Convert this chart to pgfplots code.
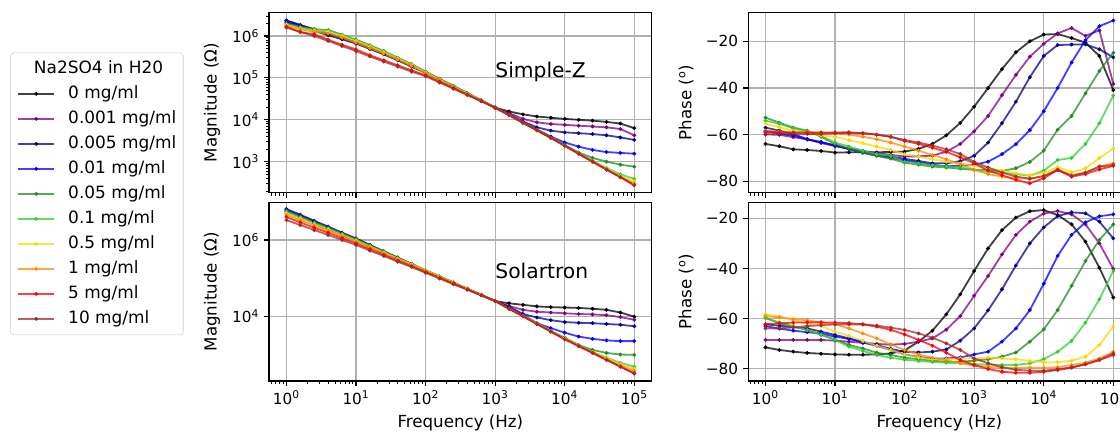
\documentclass[border=0pt]{standalone}
\usepackage{fontspec}
\setmainfont{DejaVu Sans}
\usepackage{pgfplots}
\usepackage{pgfplotstable}
\pgfplotsset{compat=1.18}

\definecolor{col0}{HTML}{000000}
\definecolor{col1}{HTML}{800080}
\definecolor{col2}{HTML}{00008B}
\definecolor{col3}{HTML}{0000FF}
\definecolor{col4}{HTML}{228B22}
\definecolor{col5}{HTML}{32CD32}
\definecolor{col6}{HTML}{FFD700}
\definecolor{col7}{HTML}{FF8C00}
\definecolor{col8}{HTML}{FF0000}
\definecolor{col9}{HTML}{A52A2A}
\definecolor{gridc}{HTML}{B0B0B0}
\definecolor{legc}{HTML}{CCCCCC}

\newcommand\tickfont{\fontsize{11}{13}\selectfont}
\newcommand\labelfont{\fontsize{12}{14}\selectfont}
\newcommand\legfont{\fontsize{12.2}{14}\selectfont}
\newcommand\titlefont{\fontsize{14.6}{17}\selectfont}

% magnitude, Simple-Z (Ohm); columns: 0, 0.001, 0.005, 0.01, 0.05, 0.1, 0.5, 1, 5, 10 mg/ml
\pgfplotstableread{
f      c0     c1     c2     c3     c4     c5     c6     c7     c8     c9
1      2.09e6 2.34e6 2.34e6 2.29e6 2.00e6 1.91e6 1.82e6 1.74e6 1.66e6 1.58e6
1.585  1.66e6 1.82e6 1.82e6 1.78e6 1.66e6 1.58e6 1.51e6 1.45e6 1.23e6 1.26e6
2.512  1.32e6 1.41e6 1.45e6 1.41e6 1.45e6 1.41e6 1.35e6 1.26e6 1.10e6 1.00e6
3.981  1.05e6 1.12e6 1.15e6 1.15e6 1.38e6 1.35e6 1.26e6 1.15e6 8.13e5 7.59e5
6.31   8.32e5 8.91e5 9.12e5 9.12e5 1.07e6 1.05e6 1.00e6 9.12e5 6.17e5 5.75e5
10     6.61e5 6.92e5 7.08e5 7.08e5 8.13e5 7.94e5 7.59e5 6.92e5 4.79e5 4.37e5
15.85  4.90e5 5.13e5 5.25e5 5.25e5 6.03e5 5.89e5 5.62e5 5.13e5 3.47e5 3.24e5
25.12  3.63e5 3.80e5 3.89e5 3.89e5 4.37e5 4.27e5 4.07e5 3.80e5 2.63e5 2.45e5
39.81  2.63e5 2.75e5 2.82e5 2.82e5 3.02e5 2.95e5 2.88e5 2.75e5 2.00e5 1.86e5
63.1   1.86e5 1.95e5 2.00e5 2.00e5 2.14e5 2.09e5 2.04e5 1.95e5 1.51e5 1.41e5
100    1.32e5 1.35e5 1.38e5 1.38e5 1.41e5 1.38e5 1.35e5 1.32e5 1.15e5 1.10e5
158.5  9.12e4 9.12e4 9.33e4 9.33e4 9.55e4 9.33e4 9.12e4 8.91e4 8.13e4 7.76e4
251.2  6.17e4 6.17e4 6.31e4 6.31e4 6.46e4 6.31e4 6.17e4 6.03e4 5.75e4 5.50e4
398.1  4.17e4 4.17e4 4.27e4 4.27e4 4.37e4 4.27e4 4.17e4 4.07e4 3.98e4 3.89e4
631    2.88e4 2.88e4 2.88e4 2.88e4 2.95e4 2.88e4 2.88e4 2.82e4 2.82e4 2.75e4
1000   1.95e4 1.95e4 1.95e4 1.95e4 1.95e4 1.95e4 1.95e4 1.95e4 1.95e4 1.95e4
1585   1.58e4 1.45e4 1.35e4 1.32e4 1.29e4 1.29e4 1.29e4 1.29e4 1.29e4 1.29e4
2512   1.35e4 1.05e4 9.12e3 8.71e3 8.51e3 8.51e3 8.51e3 8.51e3 8.51e3 8.51e3
3981   1.20e4 8.71e3 6.61e3 5.89e3 5.62e3 5.62e3 5.62e3 5.62e3 5.62e3 5.62e3
6310   1.12e4 7.94e3 5.50e3 3.98e3 3.72e3 3.72e3 3.72e3 3.72e3 3.72e3 3.72e3
10000  1.05e4 7.59e3 5.01e3 2.88e3 2.51e3 2.40e3 2.40e3 2.40e3 2.40e3 2.40e3
15850  1.00e4 7.24e3 4.79e3 2.29e3 1.66e3 1.58e3 1.55e3 1.55e3 1.55e3 1.55e3
25120  9.55e3 6.92e3 4.57e3 1.91e3 1.23e3 1.05e3 1.02e3 1.00e3 1.00e3 1.00e3
39810  8.91e3 6.61e3 4.27e3 1.70e3 1.00e3 7.08e2 6.76e2 6.61e2 6.46e2 6.46e2
63100  8.13e3 6.03e3 3.80e3 1.62e3 8.51e2 5.01e2 4.57e2 4.37e2 4.27e2 4.27e2
100000 6.31e3 4.27e3 3.31e3 1.55e3 7.59e2 3.89e2 3.39e2 3.02e2 2.75e2 2.75e2
}\magSZ

% magnitude, Solartron (Ohm)
\pgfplotstableread{
f      c0     c1     c2     c3     c4     c5     c6     c7     c8     c9
1      5.50e6 5.75e6 6.46e6 6.17e6 5.75e6 5.50e6 5.01e6 4.57e6 3.98e6 3.31e6
1.585  3.89e6 4.07e6 4.57e6 4.37e6 4.07e6 3.89e6 3.63e6 3.31e6 2.88e6 2.45e6
2.512  2.75e6 2.88e6 3.16e6 3.09e6 2.88e6 2.75e6 2.57e6 2.40e6 2.09e6 1.82e6
3.981  1.91e6 2.00e6 2.24e6 2.14e6 2.09e6 2.00e6 1.86e6 1.74e6 1.55e6 1.35e6
6.31   1.35e6 1.41e6 1.55e6 1.51e6 1.48e6 1.41e6 1.32e6 1.26e6 1.12e6 1.00e6
10     9.55e5 1.00e6 1.10e6 1.07e6 1.05e6 1.00e6 9.55e5 9.12e5 8.13e5 7.41e5
15.85  6.61e5 6.92e5 7.41e5 7.24e5 7.24e5 6.92e5 6.61e5 6.46e5 5.75e5 5.25e5
25.12  4.57e5 4.79e5 5.01e5 5.01e5 5.01e5 4.79e5 4.68e5 4.47e5 4.07e5 3.80e5
39.81  3.24e5 3.24e5 3.47e5 3.39e5 3.39e5 3.31e5 3.24e5 3.16e5 2.88e5 2.69e5
63.1   2.24e5 2.24e5 2.34e5 2.34e5 2.34e5 2.29e5 2.29e5 2.19e5 2.04e5 1.95e5
100    1.55e5 1.55e5 1.58e5 1.58e5 1.62e5 1.58e5 1.58e5 1.55e5 1.45e5 1.38e5
158.5  1.07e5 1.07e5 1.10e5 1.10e5 1.12e5 1.10e5 1.10e5 1.07e5 1.02e5 9.77e4
251.2  7.41e4 7.41e4 7.59e4 7.59e4 7.76e4 7.59e4 7.59e4 7.41e4 7.24e4 6.92e4
398.1  5.25e4 5.25e4 5.25e4 5.25e4 5.25e4 5.25e4 5.25e4 5.25e4 5.01e4 5.01e4
631    3.63e4 3.63e4 3.63e4 3.63e4 3.63e4 3.63e4 3.63e4 3.63e4 3.55e4 3.55e4
1000   2.51e4 2.51e4 2.51e4 2.51e4 2.51e4 2.51e4 2.51e4 2.51e4 2.51e4 2.51e4
1585   2.19e4 1.86e4 1.78e4 1.66e4 1.62e4 1.58e4 1.58e4 1.58e4 1.58e4 1.58e4
2512   2.00e4 1.48e4 1.15e4 1.10e4 1.02e4 1.02e4 1.02e4 1.02e4 1.00e4 1.00e4
3981   1.82e4 1.32e4 9.33e3 6.61e3 6.61e3 6.46e3 6.46e3 6.46e3 6.31e3 6.31e3
6310   1.74e4 1.26e4 7.94e3 4.90e3 4.17e3 4.07e3 4.07e3 4.07e3 3.98e3 3.98e3
10000  1.70e4 1.20e4 7.08e3 3.72e3 2.75e3 2.63e3 2.63e3 2.57e3 2.51e3 2.51e3
15850  1.66e4 1.15e4 6.76e3 2.95e3 1.78e3 1.74e3 1.70e3 1.70e3 1.66e3 1.66e3
25120  1.58e4 1.12e4 6.61e3 2.57e3 1.32e3 1.17e3 1.15e3 1.12e3 1.10e3 1.10e3
39810  1.48e4 1.07e4 6.31e3 2.34e3 1.10e3 8.32e2 7.94e2 7.59e2 7.24e2 7.24e2
63100  1.26e4 9.55e3 6.03e3 2.24e3 1.00e3 6.03e2 5.62e2 5.25e2 4.79e2 4.79e2
100000 9.77e3 8.13e3 5.50e3 2.24e3 9.77e2 4.79e2 4.17e2 3.72e2 3.24e2 3.16e2
}\magSol

% phase, Simple-Z (deg)
\pgfplotstableread{
f      c0    c1    c2    c3    c4    c5    c6    c7    c8    c9
1      -64   -59.9 -57   -58.4 -52.7 -54   -55.4 -58.3 -59.1 -58.7
1.585  -65   -60.1 -58.3 -59.5 -54.9 -55.4 -56.9 -58.7 -59.4 -59
2.512  -66.3 -61.1 -59.7 -60.5 -57   -57.3 -58.4 -59   -59.6 -59.1
3.981  -66.6 -62   -62   -62   -58.3 -58.7 -58.9 -59   -59.7 -59.1
6.31   -67   -63.6 -63.3 -63.2 -60.9 -60.6 -60.3 -59.1 -59.7 -59.1
10     -67.7 -64.9 -64.7 -64.6 -64   -63.4 -61   -59.4 -59.4 -59.1
15.85  -67.6 -66   -66.1 -66.2 -66   -65.1 -62.3 -60   -59.3 -59
25.12  -67.6 -67   -67.6 -67.8 -67.7 -66.9 -63.7 -60.9 -59.4 -59.4
39.81  -67.6 -67.9 -68.7 -69   -69.1 -68.4 -65.1 -62   -60   -60
63.1   -67.4 -68.7 -69.4 -70   -70.3 -69.1 -66.6 -63.4 -60.9 -61
100    -67.3 -69.4 -70.4 -71   -72   -71.7 -68.4 -65.1 -62.7 -62.3
158.5  -66.1 -69.3 -71.3 -72   -72.9 -72.3 -69.4 -66.9 -64   -63.4
251.2  -64   -69   -72.3 -72.9 -73.7 -73.1 -70.6 -68.7 -65.6 -64.7
398.1  -60.3 -67.3 -72.3 -73.6 -74.1 -73.7 -71.6 -70.6 -67.4 -66.3
631    -55   -64   -71.4 -73.3 -74.6 -74.1 -72.3 -72.7 -69.7 -68.3
1000   -48   -58.6 -69.1 -72.9 -75.1 -75.1 -73.4 -75.1 -72.3 -71.7
1585   -40   -52   -63.4 -71.6 -75.1 -75.9 -74.4 -76.9 -75.4 -74.1
2512   -31.9 -43.1 -55.1 -68.4 -75.6 -76.3 -75.4 -78   -77.4 -76.3
3981   -24.7 -34.4 -45.9 -64.1 -74.4 -77   -76.6 -78.7 -79.4 -78
6310   -20   -26.6 -35.4 -58.1 -71.7 -77.6 -77.4 -78.9 -80.9 -78.9
10000  -17.1 -21.1 -26.3 -50   -66.9 -75.5 -76.5 -78   -78.7 -77.7
15850  -16.9 -16.6 -21.6 -40   -57.9 -70.9 -73.9 -74.9 -75.2 -75.1
25120  -18.6 -14.3 -21.4 -29.1 -52   -70   -76.1 -77.3 -78   -77.7
39810  -20.6 -17.7 -21.3 -19.5 -42.3 -64   -74.5 -76.3 -76.9 -76.3
63100  -26.3 -15.3 -23.4 -13.5 -32.7 -55.1 -70   -73.7 -74.9 -73.7
100000 -40.9 -38.3 -26.9 -11.1 -24.9 -43.3 -66   -72.3 -73.4 -73
}\phSZ

% phase, Solartron (deg)
\pgfplotstableread{
f      c0    c1    c2    c3    c4    c5    c6    c7    c8    c9
1      -71.5 -68.5 -62.3 -63   -59.6 -59.9 -58.3 -59   -62.2 -63.9
1.585  -72.5 -68.5 -62.8 -64   -61.9 -61.5 -59.2 -59.5 -61.9 -63.9
2.512  -73.2 -68.5 -63.4 -64.8 -63.2 -63   -60.6 -60.2 -61.6 -63.5
3.981  -73.7 -68.5 -63.9 -65.4 -64.5 -64.6 -61.9 -60.7 -61.5 -63
6.31   -74   -68.5 -65.2 -65.9 -66.5 -66.3 -63   -61.5 -61.5 -62.6
10     -74.3 -68.8 -66.5 -67.2 -68.3 -68.5 -65.2 -62.3 -61.6 -62.3
15.85  -74.4 -69.2 -67.9 -68.1 -70.5 -71.2 -66.9 -63.9 -61.8 -62.3
25.12  -74.4 -69.7 -69.2 -69.5 -71.9 -72.9 -68.9 -65.9 -62.3 -62.3
39.81  -74.3 -70.1 -70.5 -70.9 -73.6 -74.5 -70.8 -67.9 -63.2 -62.8
63.1   -73.9 -70.4 -72.1 -72.5 -74.5 -75.6 -72.5 -70.3 -64.5 -63.6
100    -72.7 -70.1 -73.2 -74.3 -75.6 -76.4 -74.3 -72.5 -66.3 -64.5
158.5  -69.2 -69.2 -73.5 -75.3 -76.2 -76.9 -75.5 -74.3 -68.5 -65.9
251.2  -64.8 -67.9 -73.2 -75.9 -76.8 -77.3 -76.2 -75.6 -70.8 -67.6
398.1  -58.3 -64.4 -72.3 -75.9 -77.2 -77.6 -76.2 -76.6 -73.6 -69.9
631    -50.3 -59   -68.8 -75.5 -77.2 -77.8 -75.9 -77.8 -76.5 -72.5
1000   -41   -50.9 -63.9 -74.3 -76.8 -78.1 -75.9 -78.8 -78.5 -75.9
1585   -32   -43   -56.7 -73.2 -76.2 -78.4 -75.5 -79.2 -80.1 -77.8
2512   -24.7 -34.4 -48.3 -69.2 -75.2 -78.5 -75.9 -79.6 -81.2 -79.4
3981   -19.7 -26.6 -38.8 -63.9 -73.5 -78.5 -76.2 -79.6 -81.6 -80.4
6310   -17.2 -21.3 -30   -56.6 -69.2 -77.8 -76.9 -79.6 -81.6 -80.8
10000  -16.7 -18.1 -23.6 -46.1 -64.3 -76.2 -77.4 -79.6 -81.2 -80.8
15850  -18.7 -17.1 -19.1 -35   -56.6 -73.2 -77.4 -79.4 -80.5 -80.2
25120  -22.4 -18.4 -17.6 -26.6 -46.9 -68.9 -76.8 -78.5 -79.6 -79.4
39810  -29.3 -22.4 -18   -21.6 -37   -61.6 -75.2 -77.6 -78.2 -78.2
63100  -39.7 -30   -21.3 -19.2 -28.6 -52.3 -70.5 -75.9 -76.5 -76.5
100000 -51.6 -40.2 -28   -18.4 -22.4 -41   -63.2 -73.2 -74.5 -73.9
}\phSol

% settings shared by all four panels
\pgfplotsset{
  every axis/.append style={
    scale only axis, width=275.5pt,
    xmin=0.5623, xmax=177828,
    tick align=outside, tick pos=left,
    major tick length=3.6pt, minor tick length=2.1pt,
    tick style={line width=0.8pt, color=black},
    minor tick style={line width=0.6pt},
    axis line style={line width=0.8pt},
    grid=major, major grid style={line width=0.8pt, color=gridc},
    ticklabel style={font=\tickfont},
    label style={font=\labelfont},
    xlabel style={at={(axis description cs:0.5,0)}, anchor=base, yshift=-33.6pt},
  },
  every axis plot/.append style={line width=1.3pt, mark=*, mark size=1.25pt,
    draw opacity=0.75, mark options={line width=0.3pt, draw opacity=1, fill opacity=1}},
  legend image code/.code={\draw[mark repeat=2,mark phase=2,#1] plot coordinates {(0pt,0pt) (13pt,0pt) (26pt,0pt)};},
}

\begin{document}
\begin{tikzpicture}

% Simple-Z magnitude, with the shared legend
\begin{axis}[at={(193.7pt,172.3pt)}, anchor=south west, height=129.6pt,
    xmode=log, ymode=log,
    xtick={1,10,100,1000,10000,100000}, xticklabels={},
    minor xtick={0.6,0.7,0.8,0.9,2,3,4,5,6,7,8,9,20,30,40,50,60,70,80,90,200,300,400,500,600,700,800,900,2000,3000,4000,5000,6000,7000,8000,9000,20000,30000,40000,50000,60000,70000,80000,90000},
    ymin=182, ymax=3.6e6,
    ytick={1e3,1e4,1e5,1e6},
    yticklabels={10\textsuperscript{3},10\textsuperscript{4},10\textsuperscript{5},10\textsuperscript{6}},
    minor ytick={200,300,400,500,600,700,800,900,2000,3000,4000,5000,6000,7000,8000,9000,2e4,3e4,4e4,5e4,6e4,7e4,8e4,9e4,2e5,3e5,4e5,5e5,6e5,7e5,8e5,9e5,2e6,3e6},
    ylabel={Magnitude (Ω)},
    ylabel style={at={(axis description cs:-0.149,0.5)}, anchor=center},
    legend cell align=left,
    legend style={at={(-0.6768,0.7778)}, anchor=north west, draw=legc, rounded corners=2.5pt,
      fill=white, font=\legfont, inner xsep=5pt, inner ysep=5.5pt, row sep=6pt, column sep=9.4pt,
      nodes={inner sep=0pt, text height=9pt, text depth=3pt}},
  ]
  \addlegendimage{empty legend}
  \addlegendentry{\hspace{-24.7pt}Na2SO4 in H20}
  \addplot[col0] table[x=f,y=c0]{\magSZ}; \addlegendentry{0 mg/ml}
  \addplot[col1] table[x=f,y=c1]{\magSZ}; \addlegendentry{0.001 mg/ml}
  \addplot[col2] table[x=f,y=c2]{\magSZ}; \addlegendentry{0.005 mg/ml}
  \addplot[col3] table[x=f,y=c3]{\magSZ}; \addlegendentry{0.01 mg/ml}
  \addplot[col4] table[x=f,y=c4]{\magSZ}; \addlegendentry{0.05 mg/ml}
  \addplot[col5] table[x=f,y=c5]{\magSZ}; \addlegendentry{0.1 mg/ml}
  \addplot[col6] table[x=f,y=c6]{\magSZ}; \addlegendentry{0.5 mg/ml}
  \addplot[col7] table[x=f,y=c7]{\magSZ}; \addlegendentry{1 mg/ml}
  \addplot[col8] table[x=f,y=c8]{\magSZ}; \addlegendentry{5 mg/ml}
  \addplot[col9] table[x=f,y=c9]{\magSZ}; \addlegendentry{10 mg/ml}
  \node[anchor=base west, inner sep=0pt, font=\titlefont] at (axis cs:1000,1e5) {Simple-Z};
\end{axis}

% Solartron magnitude
\begin{axis}[at={(193.7pt,36.7pt)}, anchor=south west, height=128.7pt,
    xmode=log, ymode=log,
    xtick={1,10,100,1000,10000,100000},
    xticklabels={10\textsuperscript{0},10\textsuperscript{1},10\textsuperscript{2},10\textsuperscript{3},10\textsuperscript{4},10\textsuperscript{5}},
    minor xtick={0.6,0.7,0.8,0.9,2,3,4,5,6,7,8,9,20,30,40,50,60,70,80,90,200,300,400,500,600,700,800,900,2000,3000,4000,5000,6000,7000,8000,9000,20000,30000,40000,50000,60000,70000,80000,90000},
    ymin=202, ymax=9.7e6,
    ytick={1e4,1e6},
    yticklabels={10\textsuperscript{4},10\textsuperscript{6}},
    yminorticks=false,
    xlabel={Frequency (Hz)},
    ylabel={Magnitude (Ω)},
    ylabel style={at={(axis description cs:-0.149,0.5)}, anchor=center},
  ]
  \pgfplotsinvokeforeach{0,...,9}{\addplot[col#1] table[x=f,y=c#1]{\magSol};}
  \node[anchor=base west, inner sep=0pt, font=\titlefont] at (axis cs:1000,1e5) {Solartron};
\end{axis}

% Simple-Z phase
\begin{axis}[at={(538.6pt,172.3pt)}, anchor=south west, height=129.6pt,
    xmode=log,
    xtick={1,10,100,1000,10000,100000}, xticklabels={},
    minor xtick={0.6,0.7,0.8,0.9,2,3,4,5,6,7,8,9,20,30,40,50,60,70,80,90,200,300,400,500,600,700,800,900,2000,3000,4000,5000,6000,7000,8000,9000,20000,30000,40000,50000,60000,70000,80000,90000},
    ymin=-84.9, ymax=-7.74,
    ytick={-80,-60,-40,-20}, yticklabels={−80,−60,−40,−20},
    ylabel={Phase (\textsuperscript{o})},
    ylabel style={at={(axis description cs:-0.162,0.5)}, anchor=center},
  ]
  \pgfplotsinvokeforeach{0,...,9}{\addplot[col#1] table[x=f,y=c#1]{\phSZ};}
\end{axis}

% Solartron phase
\begin{axis}[at={(538.6pt,36.7pt)}, anchor=south west, height=128.7pt,
    xmode=log,
    xtick={1,10,100,1000,10000,100000},
    xticklabels={10\textsuperscript{0},10\textsuperscript{1},10\textsuperscript{2},10\textsuperscript{3},10\textsuperscript{4},10\textsuperscript{5}},
    minor xtick={0.6,0.7,0.8,0.9,2,3,4,5,6,7,8,9,20,30,40,50,60,70,80,90,200,300,400,500,600,700,800,900,2000,3000,4000,5000,6000,7000,8000,9000,20000,30000,40000,50000,60000,70000,80000,90000},
    ymin=-84.9, ymax=-13.6,
    ytick={-80,-60,-40,-20}, yticklabels={−80,−60,−40,−20},
    xlabel={Frequency (Hz)},
    ylabel={Phase (\textsuperscript{o})},
    ylabel style={at={(axis description cs:-0.162,0.5)}, anchor=center},
  ]
  \pgfplotsinvokeforeach{0,...,9}{\addplot[col#1] table[x=f,y=c#1]{\phSol};}
\end{axis}

\pgfresetboundingbox
\path[use as bounding box] (0pt,0pt) rectangle (806.4pt,311.04pt);
\end{tikzpicture}
\end{document}
